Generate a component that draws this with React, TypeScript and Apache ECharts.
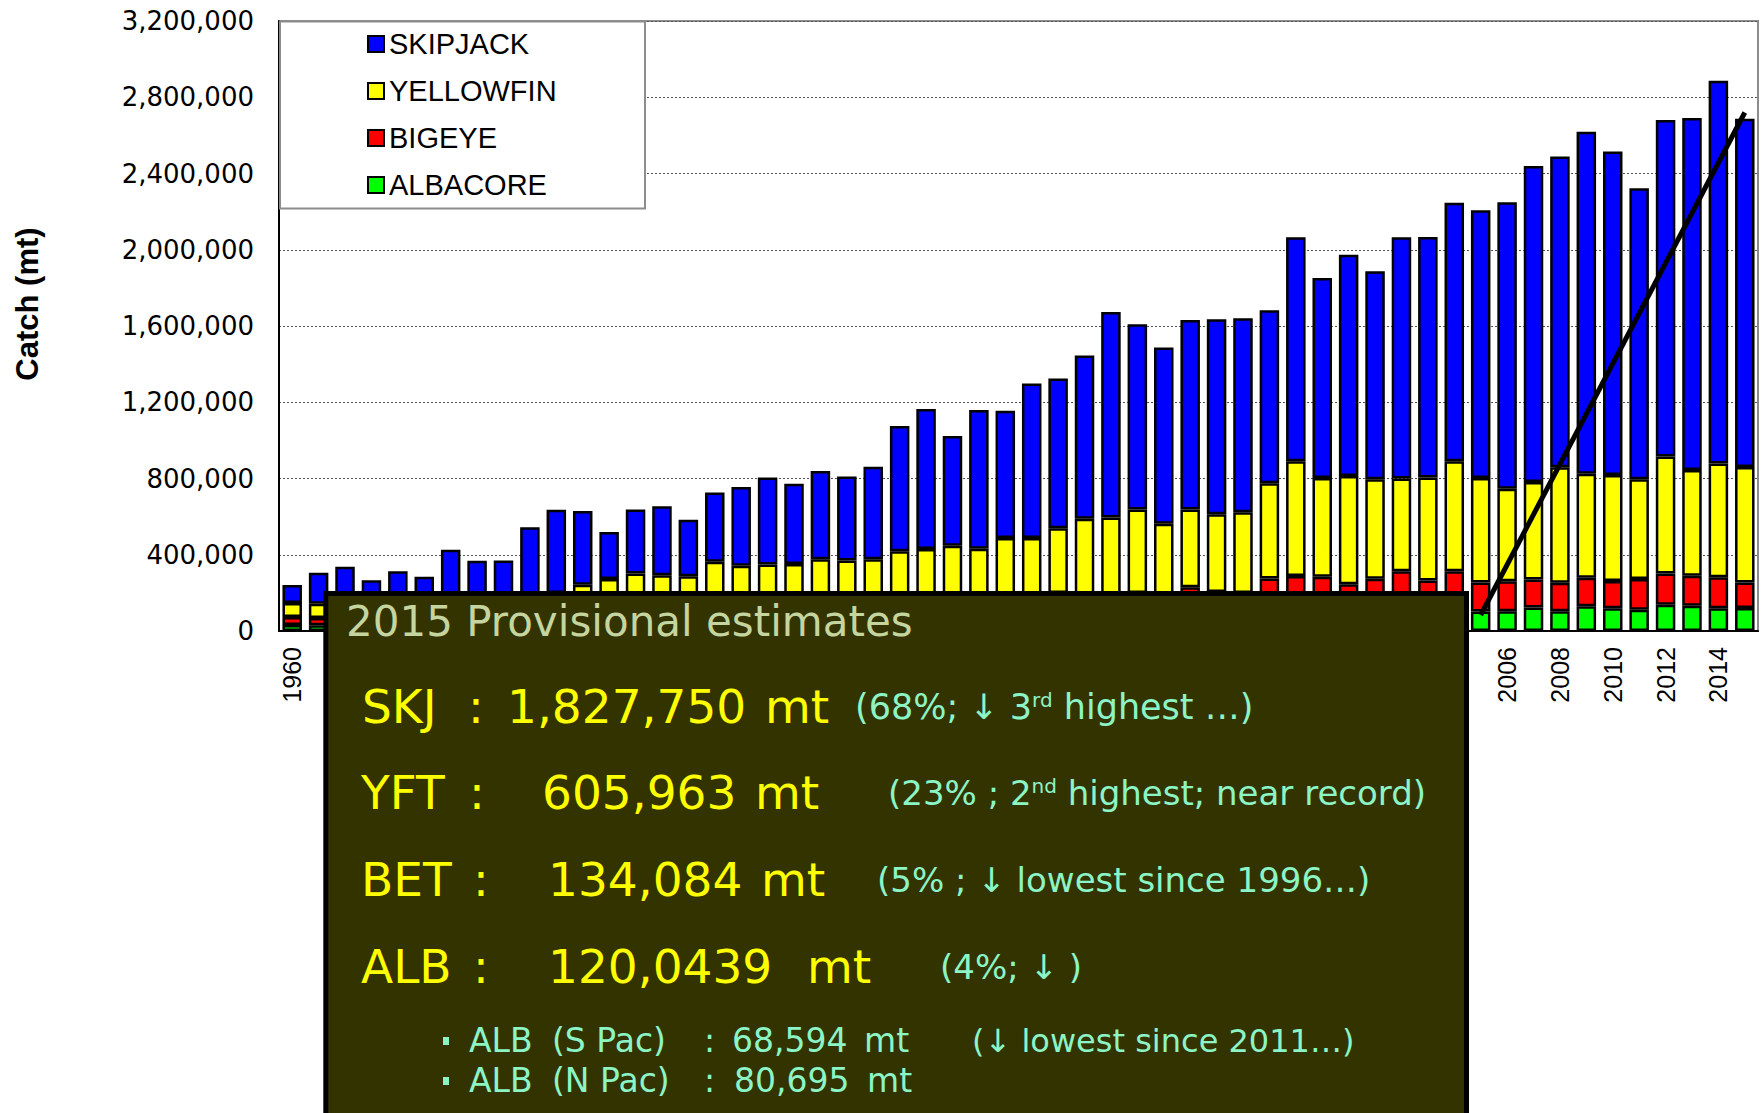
import React, { useEffect, useRef } from "react";
import * as echarts from "echarts";

const years = [
  "1960", "1961", "1962", "1963", "1964", "1965", "1966", "1967", "1968", "1969",
  "1970", "1971", "1972", "1973", "1974", "1975", "1976", "1977", "1978", "1979",
  "1980", "1981", "1982", "1983", "1984", "1985", "1986", "1987", "1988", "1989",
  "1990", "1991", "1992", "1993", "1994", "1995", "1996", "1997", "1998", "1999",
  "2000", "2001", "2002", "2003", "2004", "2005", "2006", "2007", "2008", "2009",
  "2010", "2011", "2012", "2013", "2014", "2015",
];

const albacore = [
  31000, 30000, 35000, 32000, 45000, 40000, 42000, 40000, 38000, 45000,
  50000, 55000, 60000, 62000, 55000, 50000, 70000, 55000, 60000, 55000,
  50000, 50000, 48000, 45000, 45000, 45000, 50000, 45000, 55000, 58000,
  55000, 50000, 65000, 60000, 70000, 65000, 68000, 80000, 88000, 90000,
  85000, 98000, 110000, 105000, 100000, 102000, 104000, 123000, 103000, 130000,
  119000, 112000, 138000, 132000, 120000, 120044,
];

const bigeye = [
  42000, 38000, 40000, 40000, 40000, 40000, 48000, 48000, 54000, 55000,
  55000, 55000, 55000, 63000, 75000, 75000, 65000, 85000, 85000, 95000,
  105000, 100000, 112000, 120000, 125000, 115000, 120000, 120000, 120000, 142000,
  135000, 145000, 135000, 130000, 160000, 140000, 132000, 196000, 200000, 195000,
  160000, 176000, 203000, 160000, 214000, 153000, 157000, 147000, 150000, 150000,
  143000, 161000, 164000, 158000, 162000, 134084,
];

const yellowfin = [
  74000, 75000, 75000, 68000, 75000, 70000, 75000, 82000, 83000, 85000,
  95000, 133000, 158000, 176000, 162000, 162000, 228000, 202000, 204000, 202000,
  222000, 220000, 217000, 254000, 260000, 287000, 261000, 323000, 313000, 339000,
  399000, 401000, 438000, 372000, 408000, 408000, 423000, 499000, 602000, 517000,
  568000, 522000, 487000, 540000, 576000, 547000, 485000, 512000, 606000, 545000,
  556000, 523000, 613000, 555000, 597000, 605963,
];

const skipjack = [
  94000, 163000, 187000, 126000, 154000, 135000, 261000, 198000, 195000, 359000,
  436000, 386000, 247000, 337000, 363000, 296000, 363000, 414000, 456000, 420000,
  463000, 440000, 485000, 656000, 735000, 576000, 728000, 667000, 811000, 785000,
  856000, 1078000, 971000, 925000, 993000, 1023000, 1018000, 908000, 1175000, 1050000,
  1161000, 1091000, 1265000, 1262000, 1356000, 1405000, 1503000, 1658000, 1630000, 1794000,
  1698000, 1527000, 1766000, 1846000, 2007000, 1827750,
];

const trendYears = ["2005", "2015"];
const trendValues = [84000, 2720000];

const seriesNames = ["SKIPJACK", "YELLOWFIN", "BIGEYE", "ALBACORE"];

const BOX_FONT = '"DejaVu Sans", sans-serif';
const YEL = "#ffff00";
const AQ = "#8cf5c6";
const TITLE_C = "#c4d5a0";

function boxText(text: string, x: number, y: number, size: number, fill: string, rich?: any) {
  return {
    type: "text",
    x,
    y,
    z: 21,
    silent: true,
    style: {
      text,
      fill,
      fontSize: size,
      fontFamily: BOX_FONT,
      align: "left",
      verticalAlign: "middle",
      rich,
    },
  };
}

const supRich = {
  sup: { fontSize: 20, verticalAlign: "top", fontFamily: BOX_FONT, fill: AQ },
};

function barSeries(name: string, data: number[], color: string) {
  return {
    name,
    type: "bar",
    stack: "catch",
    data,
    barWidth: 19.5,
    itemStyle: { color, borderColor: "#000", borderWidth: 2.5 },
    emphasis: { disabled: true },
    z: 2,
  };
}

export default function App() {
  const ref = useRef<HTMLDivElement>(null);

  useEffect(() => {
    const chart = echarts.init(ref.current!, null, { renderer: "svg" });
    const option: any = {
      animation: false,
      backgroundColor: "#ffffff",
      grid: {
        left: 279,
        right: 6,
        top: 21,
        bottom: 482,
        show: true,
        borderColor: "#8c8c8c",
        borderWidth: 2,
      },
      legend: {
        data: seriesNames,
        orient: "vertical",
        left: 367,
        top: 29,
        padding: 0,
        itemWidth: 16,
        itemHeight: 16,
        itemGap: 17,
        icon: "rect",
        itemStyle: { borderColor: "#000", borderWidth: 2 },
        textStyle: {
          fontSize: 29,
          fontFamily: '"Liberation Sans", Arial, sans-serif',
          color: "#000",
          lineHeight: 30,
        },
        z: 5,
      },
      xAxis: {
        type: "category",
        data: years,
        axisLine: { lineStyle: { color: "#000", width: 2 } },
        axisTick: { show: false },
        axisLabel: {
          rotate: 90,
          interval: 1,
          fontSize: 25,
          fontFamily: '"Liberation Sans", Arial, sans-serif',
          color: "#000",
          margin: 16,
        },
      },
      yAxis: {
        type: "value",
        min: 0,
        max: 3200000,
        interval: 400000,
        axisLine: { show: true, lineStyle: { color: "#000", width: 2 } },
        axisTick: { show: false },
        splitLine: { lineStyle: { color: "#555", type: [2, 2], width: 1 } },
        axisLabel: {
          formatter: (v: number) => v.toLocaleString("en-US"),
          fontSize: 26,
          fontFamily: BOX_FONT,
          color: "#000",
          margin: 25,
        },
      },
      series: [
        barSeries("ALBACORE", albacore, "#00ff00"),
        barSeries("BIGEYE", bigeye, "#ff0000"),
        barSeries("YELLOWFIN", yellowfin, "#ffff00"),
        barSeries("SKIPJACK", skipjack, "#0000ff"),
        {
          name: "trend",
          type: "line",
          data: trendYears.map((y, i) => [y, trendValues[i]]),
          symbol: "none",
          silent: true,
          lineStyle: { color: "#000", width: 5, cap: "butt" },
          z: 5,
        },
      ],
      graphic: [
        {
          type: "rect",
          z: 3,
          silent: true,
          shape: { x: 280, y: 21.5, width: 365, height: 187 },
          style: { fill: "#ffffff", stroke: "#8c8c8c", lineWidth: 2 },
        },
        {
          type: "text",
          x: 27,
          y: 304,
          rotation: Math.PI / 2,
          z: 3,
          style: {
            text: "Catch (mt)",
            fontSize: 31,
            fontWeight: "bold",
            fontFamily: '"Liberation Sans", Arial, sans-serif',
            fill: "#000",
            align: "center",
            verticalAlign: "middle",
          },
        },
        {
          type: "rect",
          z: 20,
          silent: true,
          shape: { x: 325.8, y: 593.5, width: 1140.7, height: 600 },
          style: { fill: "#333300", stroke: "#000", lineWidth: 5 },
        },
        boxText("2015 Provisional estimates", 346, 621, 42, TITLE_C),

        boxText("SKJ", 362, 706, 47, YEL),
        boxText(":", 468, 706, 47, YEL),
        boxText("1,827,750", 507, 706, 47, YEL),
        boxText("mt", 765, 706, 47, YEL),
        boxText("(68%; \u2193 3{sup|rd} highest \u2026)", 855, 707, 35, AQ, supRich),

        boxText("YFT", 361, 792, 47, YEL),
        boxText(":", 469, 792, 47, YEL),
        boxText("605,963", 542, 792, 47, YEL),
        boxText("mt", 755, 792, 47, YEL),
        boxText("(23% ; 2{sup|nd} highest; near record)", 888, 793, 34, AQ, supRich),

        boxText("BET", 361, 879, 47, YEL),
        boxText(":", 473, 879, 47, YEL),
        boxText("134,084", 548, 879, 47, YEL),
        boxText("mt", 761, 879, 47, YEL),
        boxText("(5% ; \u2193 lowest since 1996\u2026)", 877, 880, 34, AQ),

        boxText("ALB", 361, 966, 47, YEL),
        boxText(":", 473, 966, 47, YEL),
        boxText("120,0439", 548, 966, 47, YEL),
        boxText("mt", 807, 966, 47, YEL),
        boxText("(4%; \u2193 )", 940, 967, 34, AQ),

        {
          type: "rect",
          z: 21,
          silent: true,
          shape: { x: 443, y: 1037, width: 6, height: 8 },
          style: { fill: AQ },
        },
        boxText("ALB", 469, 1040, 33, AQ),
        boxText("(S Pac)", 552, 1040, 33, AQ),
        boxText(":", 704, 1040, 33, AQ),
        boxText("68,594", 732, 1040, 33, AQ),
        boxText("mt", 864, 1040, 33, AQ),
        boxText("(\u2193 lowest since 2011\u2026)", 972, 1041, 32, AQ),

        {
          type: "rect",
          z: 21,
          silent: true,
          shape: { x: 443, y: 1077, width: 6, height: 8 },
          style: { fill: AQ },
        },
        boxText("ALB", 469, 1080, 33, AQ),
        boxText("(N Pac)", 552, 1080, 33, AQ),
        boxText(":", 704, 1080, 33, AQ),
        boxText("80,695", 734, 1080, 33, AQ),
        boxText("mt", 867, 1080, 33, AQ),
      ],
    };
    chart.setOption(option);
    return () => chart.dispose();
  }, []);

  return (
    <div
      ref={ref}
      style={{
        position: "absolute",
        left: 0,
        top: 0,
        width: 1764,
        height: 1113,
        background: "#ffffff",
      }}
    />
  );
}
